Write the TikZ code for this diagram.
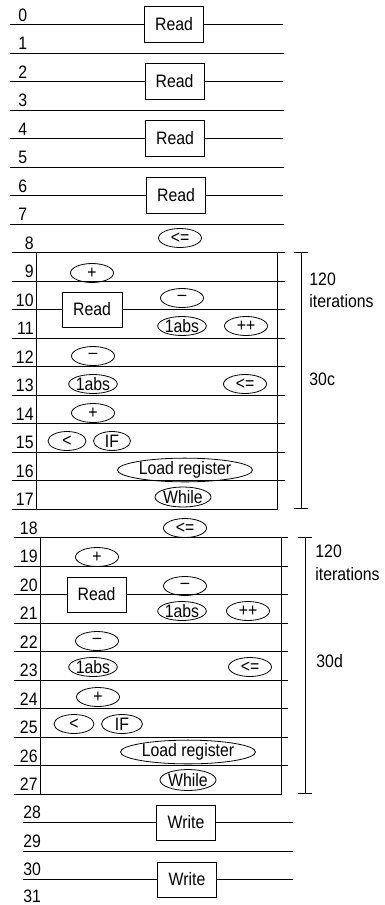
\documentclass[tikz,border=0pt]{standalone}
\usepackage{fontspec}
\setmainfont{Liberation Sans}[FakeStretch=0.88]
\usetikzlibrary{shapes.geometric}
\begin{document}
\begin{tikzpicture}[x=1pt,y=-1pt, line width=0.8pt,
  every node/.style={font=\fontsize{18}{20}\selectfont},
  op/.style={draw, ellipse, inner sep=0pt, minimum height=19pt, minimum width=43pt},
  unit/.style={draw, rectangle, inner sep=0pt, minimum width=59pt, minimum height=36pt},
  rowlbl/.style={inner sep=0pt},
  txt/.style={inner sep=0pt, anchor=base west},
]
\useasboundingbox (0,0) rectangle (385,905);

% row labels
\foreach \k in {0,...,7} \node[rowlbl, anchor=base west] (r\k) at (18,{21+28.5*\k}) {\k};
\foreach \k in {8,...,17} \node[rowlbl, anchor=base east] (r\k) at (34,{21+28.5*\k}) {\k};
\foreach \k in {18,...,27} \node[rowlbl, anchor=base east] (r\k) at (38,{21+28.5*\k}) {\k};
\foreach \k in {28,30} \node[rowlbl, anchor=base west] (r\k) at (23,{20.5+28.5*\k}) {\k};
\node[rowlbl, anchor=base west] (r29) at (23,847) {29};
\node[rowlbl, anchor=base west] (r31) at (23,902) {31};

% ---- top: four Read units over rows 0-7
\foreach \k/\x in {0/174,2/174.5,4/175,6/176}{
  \node[unit] (rd\k) at (\x,{24.5+28.5*\k}) {Read};
  \coordinate (ls\k) at (10,{24.5+28.5*\k});
  \coordinate (le\k) at (283,{24.5+28.5*\k});
  \draw (ls\k) -- (rd\k.west);
  \draw (rd\k.east) -- (le\k);
}
\foreach \k in {1,3,5,7}{
  \coordinate (ls\k) at (10,{24.5+28.5*\k});
  \coordinate (le\k) at (284,{24.5+28.5*\k});
  \draw (ls\k) -- (le\k);
}

% ---- loop 30c : rows 8-17
\coordinate (b1nw) at (36,252.5);
\coordinate (b1se) at (277,509);
\draw (b1nw) rectangle (b1se);
\foreach \k in {8,9,11,12,13,14,15,16}{
  \coordinate (ls\k) at (12,{24.5+28.5*\k});
  \coordinate (le\k) at (285,{24.5+28.5*\k});
  \draw (ls\k) -- (le\k);
}
\coordinate (ls17) at (12,509);
\draw (ls17) -- (b1se);
\node[unit, minimum width=60pt, minimum height=35pt] (rdA) at (92,309.5) {Read};
\coordinate (ls10) at (12,309.5);
\coordinate (le10) at (285,309.5);
\draw (ls10) -- (rdA.west);
\draw (rdA.east) -- (le10);

\node[op] (a8) at (180,238) {<=};
\node[op] (a9) at (92,273) {+};
\node[op] (a10) at (182,298) {\textendash};
\node[op, minimum width=48pt] (a11a) at (182,326) {1abs};
\node[op] (a11b) at (246,326) {++};
\node[op] (a12) at (93,356) {\textendash};
\node[op, minimum width=48pt] (a13a) at (93,384) {1abs};
\node[op] (a13b) at (245,384) {<=};
\node[op] (a14) at (93,413) {+};
\node[op, minimum width=38pt] (a15a) at (67,441) {<};
\node[op, minimum width=37pt] (a15b) at (112,441) {IF};
\node[op, minimum width=135pt, minimum height=20pt] (a16) at (185,470) {Load register};
\node[op, minimum width=52pt, minimum height=20pt] (a17) at (183,497) {While};
\node[op] (a18) at (185,528) {<=};

% bracket 1
\coordinate (k1t) at (301,252.5);
\coordinate (k1b) at (301,508);
\coordinate (k1tl) at (294,252.5);
\coordinate (k1tr) at (308,252.5);
\coordinate (k1bl) at (294,508);
\coordinate (k1br) at (308,508);
\draw (k1t) -- (k1b);
\draw (k1tl) -- (k1tr);
\draw (k1bl) -- (k1br);
\node[txt] (c1a) at (309,285) {120};
\node[txt] (c1b) at (309,307) {iterations};
\node[txt] (c1c) at (309,385) {30c};

% ---- loop 30d : rows 18-27
\coordinate (b2nw) at (40,537.5);
\coordinate (b2se) at (281,794);
\draw (b2nw) rectangle (b2se);
\foreach \k in {18,19,21,22,23,24,25,26}{
  \coordinate (ls\k) at (14,{24.5+28.5*\k});
  \coordinate (le\k) at (288,{24.5+28.5*\k});
  \draw (ls\k) -- (le\k);
}
\coordinate (ls27) at (14,794);
\draw (ls27) -- (b2se);
\node[unit, minimum width=59pt, minimum height=35pt] (rdB) at (96.5,594.5) {Read};
\coordinate (ls20) at (14,594.5);
\coordinate (le20) at (288,594.5);
\draw (ls20) -- (rdB.west);
\draw (rdB.east) -- (le20);

\node[op] (b19) at (97,557) {+};
\node[op] (b20) at (185,586) {\textendash};
\node[op, minimum width=48pt] (b21a) at (182,611) {1abs};
\node[op] (b21b) at (248,611) {++};
\node[op] (b22) at (97,641) {\textendash};
\node[op, minimum width=48pt] (b23a) at (93,667) {1abs};
\node[op] (b23b) at (250,667) {<=};
\node[op] (b24) at (98,697) {+};
\node[op, minimum width=40pt] (b25a) at (74,724) {<};
\node[op, minimum width=41pt] (b25b) at (122,724) {IF};
\node[op, minimum width=135pt, minimum height=21pt] (b26) at (188,752) {Load register};
\node[op, minimum width=53pt, minimum height=21pt] (b27) at (188,780) {While};

% bracket 2
\coordinate (k2t) at (305,537.5);
\coordinate (k2b) at (305,793);
\coordinate (k2tl) at (298,537.5);
\coordinate (k2tr) at (312,537.5);
\coordinate (k2bl) at (298,793);
\coordinate (k2br) at (312,793);
\draw (k2t) -- (k2b);
\draw (k2tl) -- (k2tr);
\draw (k2bl) -- (k2br);
\node[txt] (c2a) at (315,557) {120};
\node[txt] (c2b) at (315,580) {iterations};
\node[txt] (c2c) at (316,667) {30d};

% ---- Write units rows 28-31
\node[unit, minimum height=35pt] (wr28) at (186,822.5) {Write};
\node[unit, minimum height=35pt] (wr30) at (187,879.5) {Write};
\foreach \k in {28,30}{
  \coordinate (ls\k) at (23,{24.5+28.5*\k});
  \coordinate (le\k) at (293,{24.5+28.5*\k});
  \draw (ls\k) -- (wr\k.west);
  \draw (wr\k.east) -- (le\k);
}
\coordinate (ls29) at (23,851);
\coordinate (le29) at (293,851);
\draw (ls29) -- (le29);
\end{tikzpicture}
\end{document}
